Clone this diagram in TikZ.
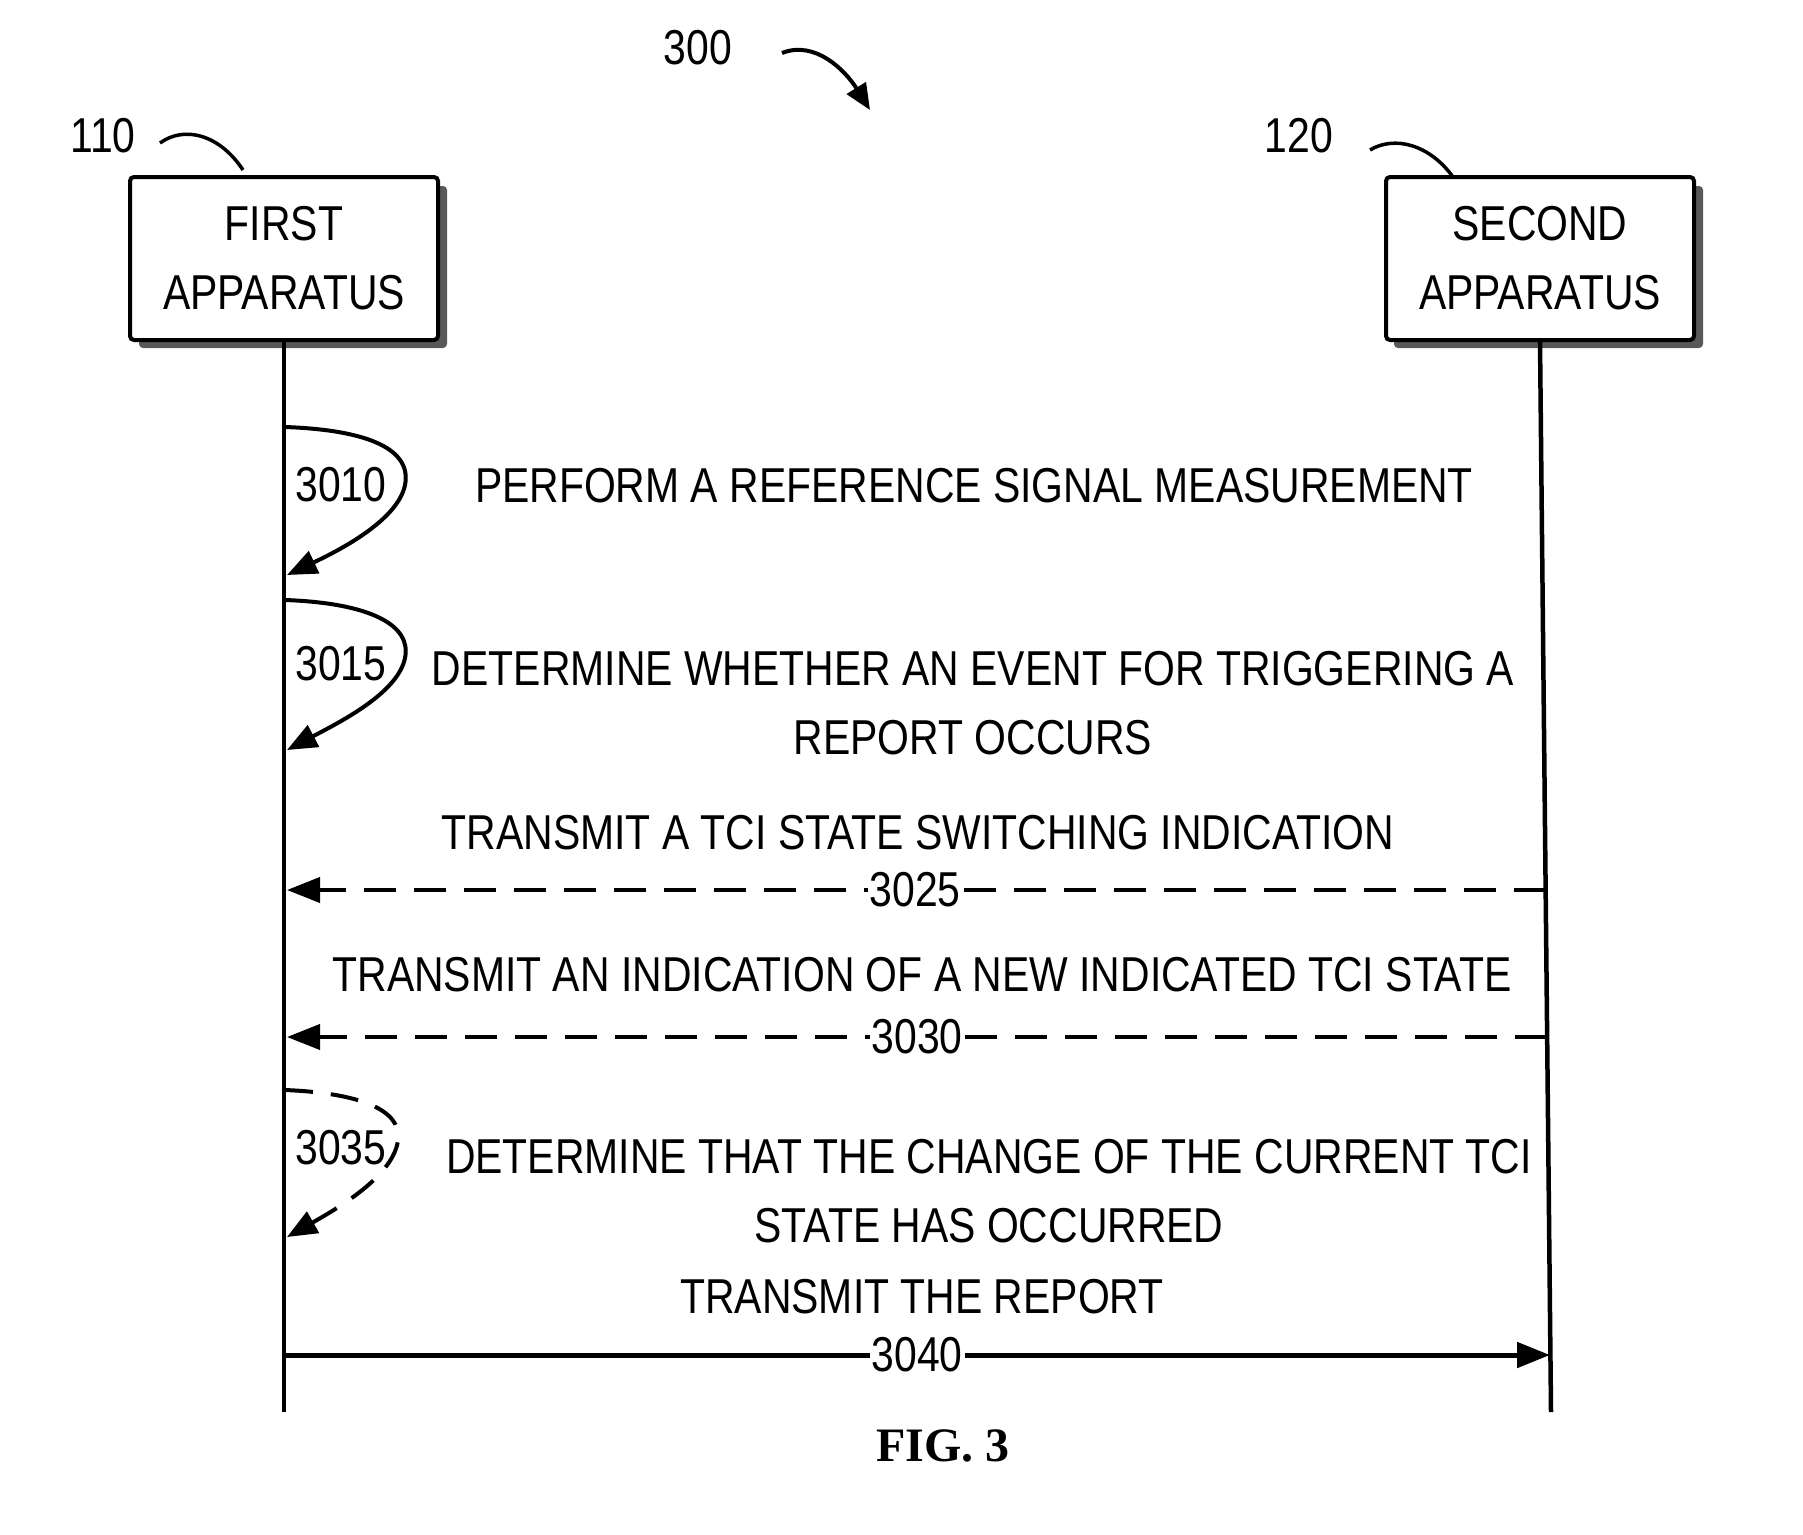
\documentclass[tikz,border=0pt]{standalone}
\usepackage{fontspec}
\setmainfont{Liberation Sans}[FakeStretch=0.835]
\newfontfamily\figfont{Liberation Serif}
\usetikzlibrary{arrows.meta}
\begin{document}
\begin{tikzpicture}[x=1pt,y=-1pt,
  txt/.style={font=\fontsize{49}{69}\selectfont, inner sep=0pt, align=center},
  apparatus/.style={txt, draw, line width=4pt, rounded corners=4pt, fill=white,
    minimum width=308pt, minimum height=163pt},
  life/.style={line width=4.5pt},
  msg/.style={line width=4pt, -{Triangle[length=33pt,width=25pt]}},
  dashmsg/.style={msg, dash pattern=on 32pt off 18pt},
  loop/.style={line width=4pt, -{Triangle[length=30pt,width=24pt]}},
  num/.style={txt, fill=white, inner xsep=2pt, inner ysep=4pt},
  refcurve/.style={line width=3.5pt}
]
\useasboundingbox (0,0) rectangle (1803,1534);

% shadows
\fill[black!65, rounded corners=4pt] (139,186) rectangle (447,348);
\fill[black!65, rounded corners=4pt] (1394,186) rectangle (1703,348);

\node[apparatus] (first) at (284,258.5) {FIRST\\APPARATUS};
\node[apparatus] (second) at (1540,258.5) {SECOND\\APPARATUS};

% reference labels
\node[txt] (n110) at (103,136) {110};
\node[txt] (n120) at (1299,136) {120};
\node[txt] (n300) at (698,48) {300};
\coordinate (c110) at (243,170);
\coordinate (c120) at (1453,177);
\coordinate (c300) at (870,110);
\draw[refcurve] (160,143) .. controls (185,125) and (220,135) .. (c110);
\draw[refcurve] (1370,150) .. controls (1395,135) and (1430,145) .. (c120);
\draw[line width=4pt, -{Triangle[length=26pt,width=22pt]}] (782,53) .. controls (815,40) and (845,70) .. (c300);

% lifelines
\coordinate (lend) at (284,1412);
\coordinate (rend) at (1551,1412);
\draw[life] (first.south) -- (lend);
\draw[life] (second.south) -- (rend);

% lifeline points
\coordinate (a1s) at (285,427);
\coordinate (a1e) at (287,575);
\coordinate (a2s) at (285,600);
\coordinate (a2e) at (287,750);
\coordinate (a3s) at (285,1090);
\coordinate (a3e) at (287,1237);
\coordinate (m1r) at (1546,890);
\coordinate (m1l) at (287,890);
\coordinate (m2r) at (1547,1037);
\coordinate (m2l) at (287,1037);
\coordinate (m3l) at (284,1355);
\coordinate (m3r) at (1550,1355);

% 3010
\draw[loop] (a1s) .. controls (370,430) and (412,450) .. (405,485)
  .. controls (398,520) and (340,550) .. (a1e);
\node[txt] (t3010) at (341,485) {3010};
\node[txt] (s3010) at (974,486) {PERFORM A REFERENCE SIGNAL MEASUREMENT};

% 3015
\draw[loop] (a2s) .. controls (370,603) and (412,625) .. (405,658)
  .. controls (398,693) and (340,722) .. (a2e);
\node[txt] (t3015) at (341,664) {3015};
\node[txt] (s3015) at (973,703.5) {DETERMINE WHETHER AN EVENT FOR TRIGGERING A\\REPORT OCCURS};

% 3025
\node[txt] (s3025) at (918,833) {TRANSMIT A TCI STATE SWITCHING INDICATION};
\draw[dashmsg] (m1r) -- (m1l);
\node[num] (t3025) at (915,890) {3025};

% 3030
\node[txt] (s3030) at (922,975) {TRANSMIT AN INDICATION OF A NEW INDICATED TCI STATE};
\draw[dashmsg] (m2r) -- (m2l);
\node[num] (t3030) at (917,1037) {3030};

% 3035
\draw[loop, dash pattern=on 28pt off 18pt] (a3s) .. controls (360,1093) and (402,1110) .. (398,1140)
  .. controls (394,1175) and (340,1207) .. (a3e);
\node[txt] (t3035) at (341,1148) {3035};
\node[txt] (s3035) at (989,1191.5) {DETERMINE THAT THE CHANGE OF THE CURRENT TCI\\STATE HAS OCCURRED};

% 3040
\node[txt] (s3040) at (922,1297) {TRANSMIT THE REPORT};
\draw[msg, line width=5pt] (m3l) -- (m3r);
\node[num] (t3040) at (917,1355) {3040};

\node[font=\figfont\bfseries\fontsize{48}{54}\selectfont, inner sep=0pt] (fig) at (943,1446) {FIG. 3};
\end{tikzpicture}
\end{document}
